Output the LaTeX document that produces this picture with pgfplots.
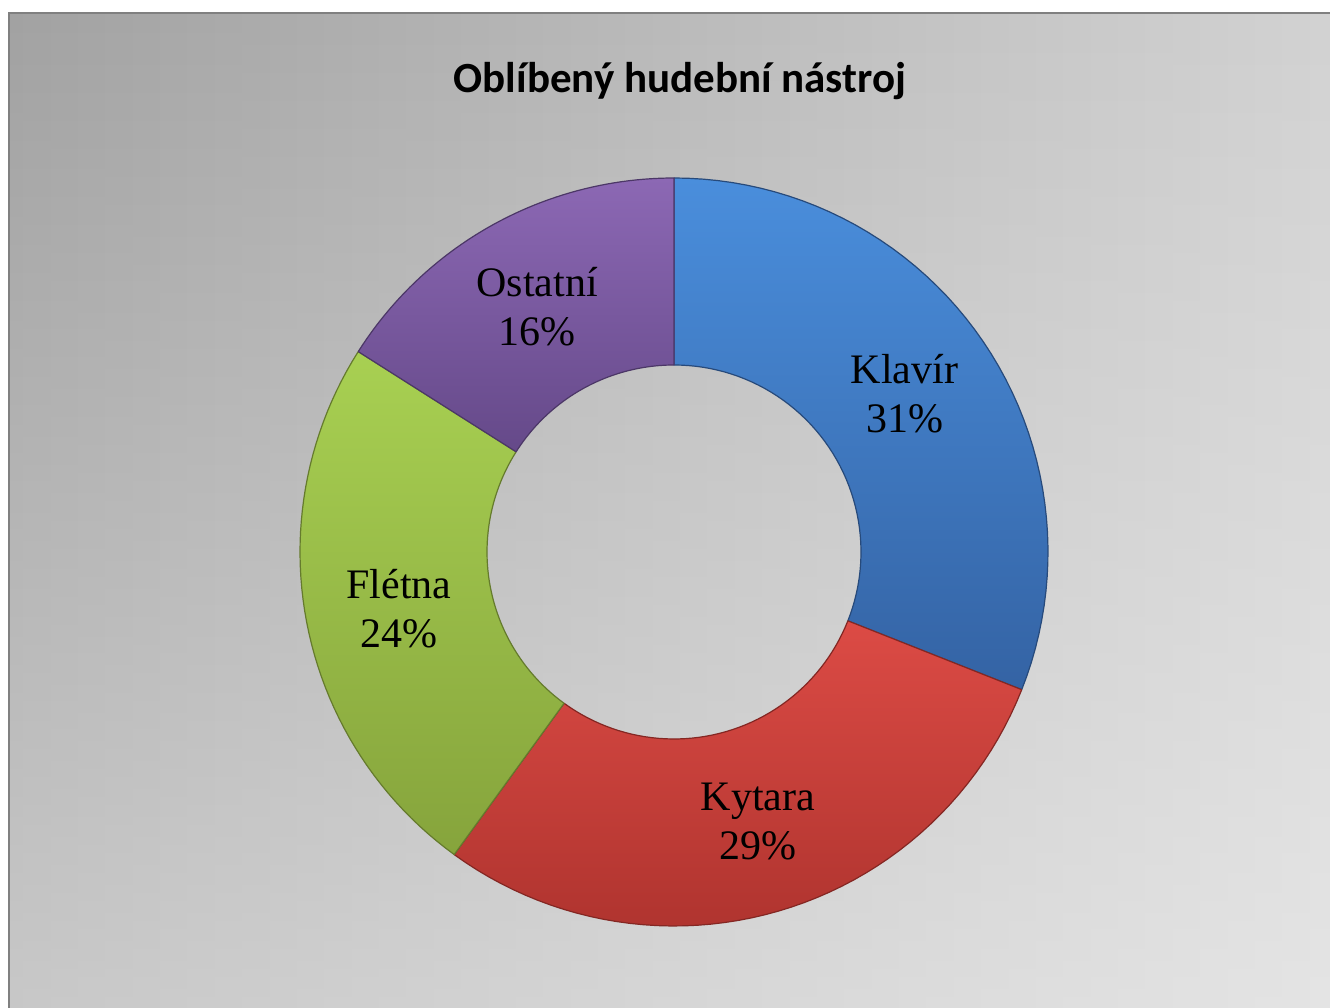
\documentclass[border=0pt]{standalone}
\usepackage{pgfplots}
\pgfplotsset{compat=1.18}
\usetikzlibrary{fadings}
\usepackage{fontspec}
\setmainfont{Liberation Serif}
\newfontfamily\calibri{Carlito}

\definecolor{bgleft}{HTML}{A2A2A2}
\definecolor{bgright}{HTML}{D3D3D3}
\definecolor{frame}{HTML}{808080}
\definecolor{blueT}{HTML}{4A8EDC}
\definecolor{blueB}{HTML}{3463A4}
\definecolor{redT}{HTML}{DC4B45}
\definecolor{redB}{HTML}{B0342F}
\definecolor{greenT}{HTML}{A8D052}
\definecolor{greenB}{HTML}{86A43C}
\definecolor{purpT}{HTML}{8C68B4}
\definecolor{purpB}{HTML}{654989}

\tikzfading[name=fadetop, top color=transparent!100, bottom color=transparent!0]

% data (percent)
\def\vKlavir{31}
\def\vKytara{29}
\def\vFletna{24}
\def\vOstatni{16}

% geometry (pt)
\def\cx{674}
\def\cy{456}
\def\Ro{374}
\def\Ri{187}
\def\Rl{280}

\pgfmathsetmacro\sA{90}
\pgfmathsetmacro\wA{-3.6*\vKlavir}
\pgfmathsetmacro\sB{\sA+\wA}
\pgfmathsetmacro\wB{-3.6*\vKytara}
\pgfmathsetmacro\sC{\sB+\wB}
\pgfmathsetmacro\wC{-3.6*\vFletna}
\pgfmathsetmacro\sD{\sC+\wC}
\pgfmathsetmacro\wD{-3.6*\vOstatni}
\pgfmathsetmacro\mA{\sA+\wA/2}
\pgfmathsetmacro\mB{\sB+\wB/2}
\pgfmathsetmacro\mC{\sC+\wC/2}
\pgfmathsetmacro\mD{\sD+\wD/2}

% ring segment: start angle, sweep, top colour, bottom colour
\newcommand\ringseg[4]{%
  \addplot[draw=#4!75!black, line width=1.2pt, top color=#3, bottom color=#4,
    domain=0:4, samples=201, variable=\t, line join=round]
  ({\cx+(\Ro-(\Ro-\Ri)*(min(max(\t-1,0),1)-min(max(\t-3,0),1)))*cos(#1+#2*(min(\t,1)-(min(max(\t,2),3)-2)))},
   {\cy+(\Ro-(\Ro-\Ri)*(min(max(\t-1,0),1)-min(max(\t-3,0),1)))*sin(#1+#2*(min(\t,1)-(min(max(\t,2),3)-2)))});
}

\begin{document}
\begin{tikzpicture}
\begin{axis}[
  scale only axis, width=1330pt, height=1008pt,
  xmin=0, xmax=1330, ymin=0, ymax=1008,
  hide axis, clip=true,
]
% background
\fill[white] (axis cs:0,0) rectangle (axis cs:1330,1008);
\fill[left color=bgleft, right color=bgright]
  (axis cs:9,-20) rectangle (axis cs:1350,995);
\fill[white, fill opacity=0.42, path fading=fadetop]
  (axis cs:9,-20) rectangle (axis cs:1350,995);
\draw[frame, line width=2.5pt] (axis cs:9,-20) rectangle (axis cs:1350,995);

\ringseg{\sA}{\wA}{blueT}{blueB}
\ringseg{\sB}{\wB}{redT}{redB}
\ringseg{\sC}{\wC}{greenT}{greenB}
\ringseg{\sD}{\wD}{purpT}{purpB}

% title
\node[anchor=base, font=\calibri\bfseries\fontsize{43}{50}\selectfont]
  at (axis cs:680,915) {Oblíbený hudební nástroj};

% labels
\begin{scope}[every node/.style={align=center, font=\fontsize{42}{49}\selectfont}]
\node at (axis cs:{\cx+\Rl*cos(\mA)-1},{\cy+\Rl*sin(\mA)+1}) {Klavír\\\vKlavir\%};
\node at (axis cs:{\cx+\Rl*cos(\mB)+6},{\cy+\Rl*sin(\mB)-1}) {Kytara\\\vKytara\%};
\node at (axis cs:{\cx+\Rl*cos(\mC)},{\cy+\Rl*sin(\mC)-4}) {Flétna\\\vFletna\%};
\node at (axis cs:{\cx+\Rl*cos(\mD)-2},{\cy+\Rl*sin(\mD)}) {Ostatní\\\vOstatni\%};
\end{scope}
\end{axis}
\end{tikzpicture}
\end{document}
